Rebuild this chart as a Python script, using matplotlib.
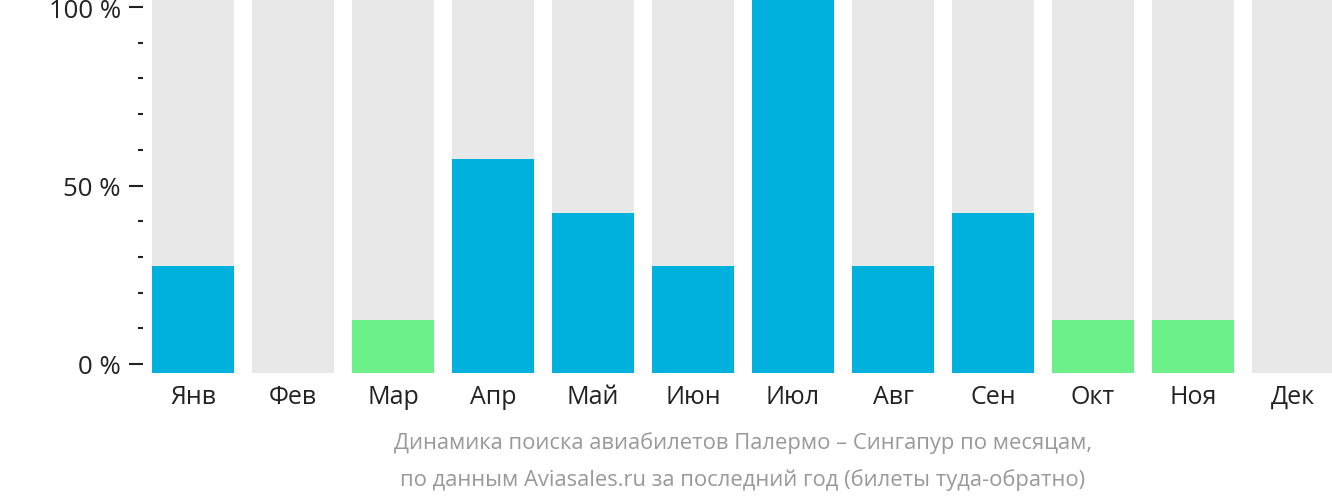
import numpy as np
import matplotlib
matplotlib.use("Agg")
import matplotlib.pyplot as plt
from matplotlib.ticker import MultipleLocator

plt.rcParams['font.family'] = ['Open Sans', 'DejaVu Sans']

months = ["Янв", "Фев", "Мар", "Апр", "Май", "Июн",
          "Июл", "Авг", "Сен", "Окт", "Ноя", "Дек"]
# share of searches, percent of the busiest month
values = [28.6, 0, 14.3, 57.1, 42.9, 28.6, 100, 28.6, 42.9, 14.3, 14.3, 0]
low_threshold = 20
caption = ["Динамика поиска авиабилетов Палермо – Сингапур по месяцам,",
           "по данным Aviasales.ru за последний год (билеты туда-обратно)"]

W, H = 1332, 502
fig = plt.figure(figsize=(W / 100, H / 100), dpi=100)

left, width = 143 / W, 1200 / W
bottom, height = (H - 374) / H, 374 / H

# bars
ax = fig.add_axes([left, bottom, width, height])
x = np.arange(len(months))
ax.bar(x, [100] * len(months), width=0.82, color="#e8e8e8")
colors = ["#6cf08a" if 0 < v < low_threshold else "#00b1dd" for v in values]
ax.bar(x, values, width=0.82, color=colors)
ax.set_xlim(-0.5, len(months) - 0.5)
ax.set_ylim(0, 100)
for s in ax.spines.values():
    s.set_visible(False)
ax.set_yticks([])
ax.set_xticks(x)
ax.set_xticklabels(months, fontsize=18, color="#222222")
ax.tick_params(axis="x", length=0, pad=8)

# percent scale (offset from bar baseline)
ax2 = fig.add_axes([left, bottom, width, height], facecolor="none")
ax2.set_ylim(-9 / 3.57, 100 + 8 / 3.57)
ax2.set_xlim(0, 1)
ax2.set_xticks([])
for s in ax2.spines.values():
    s.set_visible(False)
ax2.yaxis.set_major_locator(MultipleLocator(50))
ax2.yaxis.set_minor_locator(MultipleLocator(10))
ax2.set_yticks([0, 50, 100])
ax2.set_yticklabels(["0 %", "50 %", "100 %"], fontsize=18.5, color="#222222")
ax2.tick_params(axis="y", which="major", length=10, width=1.5, color="#222222", pad=6)
ax2.tick_params(axis="y", which="minor", length=3.5, width=1.5, color="#222222")

cx = (152 + 1334) / 2 / W
fig.text(cx, 1 - 443 / H, caption[0], ha="center", va="center", fontsize=15.8, color="#999999")
fig.text(cx, 1 - 480 / H, caption[1], ha="center", va="center", fontsize=15.8, color="#999999")

fig.savefig("out.png", dpi=100)
